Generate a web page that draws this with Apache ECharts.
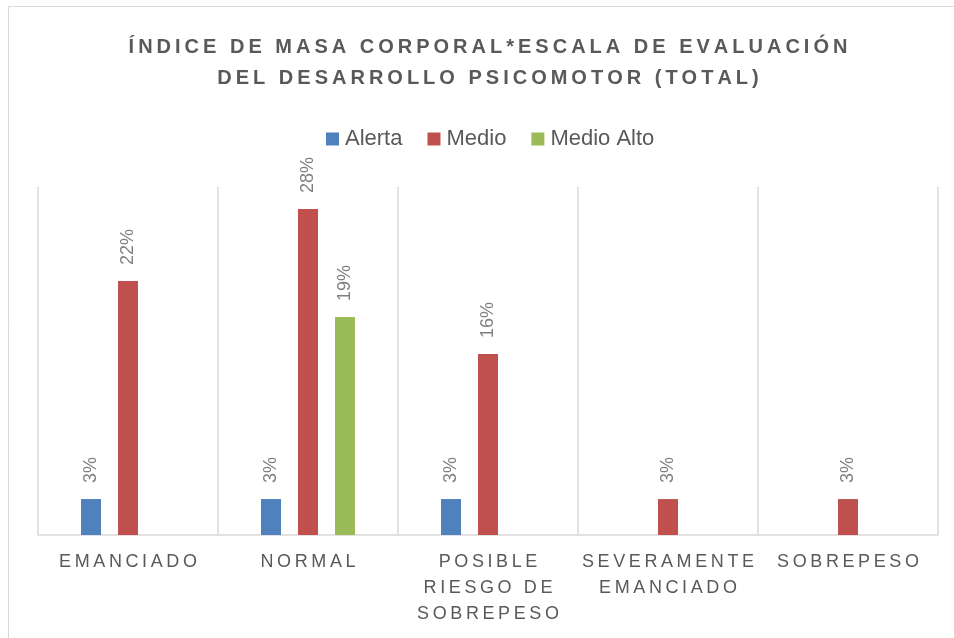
<!DOCTYPE html>
<html>
<head>
<meta charset="utf-8">
<script src="https://cdn.jsdelivr.net/npm/echarts@6/dist/echarts.min.js"></script>
<style>
html,body{margin:0;padding:0;background:#fff;}
#chart{width:954px;height:638px;}
</style>
</head>
<body>
<div id="chart"></div>
<script>
// ---- data ----
const titleLines = ['ÍNDICE DE MASA CORPORAL*ESCALA DE EVALUACIÓN', 'DEL DESARROLLO PSICOMOTOR (TOTAL)'];
const categories = ['EMANCIADO', 'NORMAL', 'POSIBLE\nRIESGO DE\nSOBREPESO', 'SEVERAMENTE\nEMANCIADO', 'SOBREPESO'];
const seriesNames = ['Alerta', 'Medio', 'Medio Alto'];
const alerta    = [3.1, 3.1, 3.1, null, null];
const medio     = [21.9, 28.1, 15.6, 3.1, 3.1];
const medioAlto = [null, 18.8, null, null, null];
const colors = ['#4F81BD', '#C0504D', '#9BBB59'];

// spread letters with thin spaces (emulates the letter spacing of the original)
function spaced(s) {
  return s.split('\n').map(l => l.split('').join('\u2009')).join('\n');
}

const chart = echarts.init(document.getElementById('chart'));
const font = '"Liberation Sans", Arial, sans-serif';

function barSeries(name, data, color) {
  return {
    name: name,
    type: 'bar',
    data: data,
    barWidth: 20,
    barGap: '85%',
    itemStyle: { color: color },
    label: {
      show: true,
      position: 'top',
      rotate: 90,
      align: 'left',
      verticalAlign: 'middle',
      distance: 16,
      color: '#7F7F7F',
      fontFamily: font,
      fontSize: 18,
      formatter: p => (p.value == null ? '' : Math.round(p.value) + '%')
    }
  };
}

chart.setOption({
  backgroundColor: '#ffffff',
  animation: false,
  color: colors,
  legend: {
    top: 123,
    left: 321,
    itemWidth: 13,
    itemHeight: 13,
    itemGap: 25,
    icon: 'rect',
    textStyle: { fontFamily: font, fontSize: 22, color: '#595959', padding: [0, 0, 0, 1] },
    data: seriesNames
  },
  grid: { left: 38, right: 16, top: 187, bottom: 103, containLabel: false },
  xAxis: {
    type: 'category',
    data: categories,
    axisTick: { show: false },
    axisLine: { lineStyle: { color: '#D9D9D9', width: 1.5 } },
    splitLine: { show: true, lineStyle: { color: '#D9D9D9', width: 1.5 } },
    axisLabel: {
      interval: 0,
      margin: 14,
      fontFamily: font,
      fontSize: 18,
      lineHeight: 26,
      color: '#595959',
      formatter: v => spaced(v)
    }
  },
  yAxis: {
    type: 'value',
    min: 0,
    max: 30,
    show: false,
    splitLine: { show: false }
  },
  graphic: [{
    type: 'rect',
    shape: { x: 8.5, y: 6.5, width: 1200, height: 1200 },
    style: { fill: 'none', stroke: '#D9D9D9', lineWidth: 1 },
    silent: true
  }, {
    type: 'text',
    x: 488,
    y: 32,
    silent: true,
    style: {
      text: spaced(titleLines.join('\n')),
      align: 'center',
      verticalAlign: 'top',
      fontFamily: font,
      fontSize: 20,
      fontWeight: 'bold',
      fill: '#595959',
      lineHeight: 31
    }
  }],
  series: [
    barSeries(seriesNames[0], alerta, colors[0]),
    barSeries(seriesNames[1], medio, colors[1]),
    barSeries(seriesNames[2], medioAlto, colors[2])
  ]
});
</script>
</body>
</html>
